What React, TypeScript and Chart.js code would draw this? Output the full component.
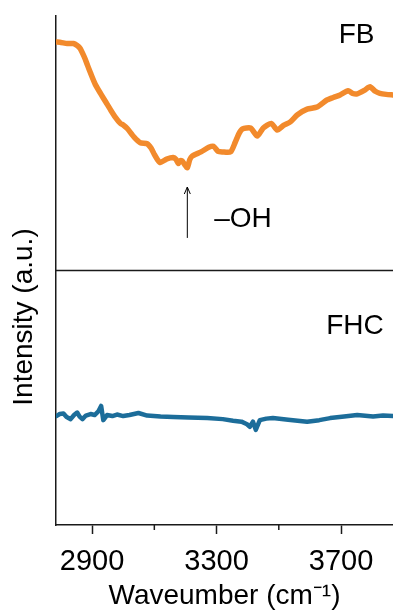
import React, { useEffect, useRef } from "react";
import { Chart, registerables } from "chart.js";

Chart.register(...registerables);

const fbWave = [2785, 2800, 2820, 2840, 2852, 2862, 2870, 2878, 2886, 2895, 2910, 2927, 2945, 2960, 2975, 2991, 3000, 3013, 3035, 3055, 3077, 3090, 3100, 3110, 3119, 3140, 3161, 3170, 3177, 3184, 3190, 3200, 3206, 3214, 3222, 3250, 3275, 3290, 3305, 3319, 3345, 3360, 3372, 3383, 3409, 3431, 3450, 3476, 3495, 3515, 3537, 3560, 3591, 3623, 3655, 3675, 3697, 3723, 3737, 3752, 3775, 3793, 3810, 3825, 3845, 3867];
const fbIntensity = [94.9, 94.8, 94.6, 94.6, 94.2, 93.6, 92.6, 91.5, 90.2, 88.8, 86.6, 84.8, 83.0, 81.5, 80.1, 78.9, 78.6, 77.9, 76.2, 75.1, 74.9, 74.0, 72.8, 71.8, 71.2, 71.9, 72.2, 71.8, 71.0, 71.6, 71.5, 70.6, 70.2, 71.8, 72.5, 73.3, 74.2, 74.4, 73.4, 73.3, 73.3, 75.2, 76.9, 77.8, 78.0, 76.4, 78.0, 78.9, 77.6, 78.5, 79.2, 80.6, 81.7, 82.1, 83.5, 84.0, 84.5, 85.3, 84.8, 84.7, 85.4, 86.1, 85.2, 84.8, 84.6, 84.5];

const fhcWave = [2785, 2796, 2808, 2818, 2831, 2842, 2852, 2860, 2869, 2880, 2895, 2908, 2920, 2929, 2936, 2948, 2965, 2980, 3000, 3020, 3049, 3077, 3120, 3161, 3210, 3270, 3320, 3353, 3380, 3398, 3407, 3417, 3426, 3439, 3460, 3481, 3530, 3591, 3630, 3665, 3710, 3752, 3803, 3835, 3867];
const fhcIntensity = [21.4, 21.8, 21.9, 21.2, 20.8, 21.6, 22.1, 21.3, 20.8, 21.5, 21.8, 21.6, 22.3, 23.4, 20.6, 21.6, 21.4, 21.7, 21.4, 21.6, 22.0, 21.5, 21.3, 21.2, 21.1, 21.0, 20.8, 20.5, 20.3, 19.8, 19.3, 20.3, 18.7, 20.6, 20.9, 21.0, 20.7, 20.3, 20.6, 21.0, 21.3, 21.6, 21.3, 21.5, 21.4];

const xTicks = [2900, 3100, 3300, 3500, 3700];
const xTickLabels = ["2900", "", "3300", "", "3700"];
const panelLabels = ["FB", "FHC"];
const peakLabel = "–OH";

const FONT = "'Liberation Sans', Arial, sans-serif";
const AXIS_COLOR = "#1a1a1a";

const overlayPlugin = {
  id: "overlay",
  afterDraw(chart: any) {
    const { ctx, chartArea, scales } = chart;
    const xs = scales.x;
    const ys = scales.y;
    ctx.save();
    const midY = ys.getPixelForValue(50);
    ctx.strokeStyle = AXIS_COLOR;
    ctx.lineWidth = 1.5;
    ctx.beginPath();
    ctx.moveTo(chartArea.left, midY);
    ctx.lineTo(chartArea.right, midY);
    ctx.stroke();
    [3100, 3500].forEach((v) => {
      const px = xs.getPixelForValue(v);
      ctx.beginPath();
      ctx.moveTo(px, chartArea.bottom);
      ctx.lineTo(px, chartArea.bottom + 5);
      ctx.stroke();
    });
    ctx.fillStyle = "#000";
    ctx.font = `28px ${FONT}`;
    ctx.textAlign = "center";
    ctx.textBaseline = "middle";
    ctx.fillText(panelLabels[0], xs.getPixelForValue(3750), ys.getPixelForValue(96.2));
    ctx.fillText(panelLabels[1], xs.getPixelForValue(3745), ys.getPixelForValue(39.1));
    ctx.fillText(peakLabel, xs.getPixelForValue(3385), ys.getPixelForValue(60));
    const ax = xs.getPixelForValue(3206);
    const yTail = ys.getPixelForValue(56.4);
    const yTip = ys.getPixelForValue(66.4);
    ctx.lineWidth = 1;
    ctx.strokeStyle = "#000";
    ctx.beginPath();
    ctx.moveTo(ax, yTail);
    ctx.lineTo(ax, yTip);
    ctx.moveTo(ax - 3, yTip + 7);
    ctx.lineTo(ax, yTip);
    ctx.lineTo(ax + 3, yTip + 7);
    ctx.stroke();
    ctx.translate(24, 317);
    ctx.rotate(-Math.PI / 2);
    ctx.font = `28px ${FONT}`;
    ctx.fillText("Intensity (a.u.)", 0, 0);
    ctx.restore();
  },
};

export default function App() {
  const ref = useRef<HTMLCanvasElement | null>(null);
  useEffect(() => {
    document.body.style.margin = "0";
    const canvas = ref.current!;
    const chart = new Chart(canvas, {
      type: "line",
      data: {
        datasets: [
          {
            label: "FB",
            data: fbWave.map((w, i) => ({ x: w, y: fbIntensity[i] })),
            borderColor: "#F28A2C",
            borderWidth: 5.5,
            pointRadius: 0,
            tension: 0.2,
            borderJoinStyle: "round",
            borderCapStyle: "round",
          },
          {
            label: "FHC",
            data: fhcWave.map((w, i) => ({ x: w, y: fhcIntensity[i] })),
            borderColor: "#1C6D9A",
            borderWidth: 4.5,
            pointRadius: 0,
            tension: 0,
            borderJoinStyle: "round",
            borderCapStyle: "round",
          },
        ],
      },
      options: {
        responsive: false,
        animation: false,
        devicePixelRatio: 1,
        layout: { padding: { top: 16, left: 0, right: 0, bottom: 0 } },
        plugins: { legend: { display: false }, tooltip: { enabled: false } },
        scales: {
          x: {
            type: "linear",
            min: 2784,
            max: 3867,
            afterBuildTicks: (scale: any) => {
              scale.ticks = xTicks.map((v) => ({ value: v }));
            },
            afterFit: (scale: any) => {
              scale.height = 90;
            },
            ticks: {
              autoSkip: false,
              maxRotation: 0,
              padding: 11,
              color: "#000",
              font: { family: FONT, size: 29 },
              callback: (v: any) => {
                const i = xTicks.indexOf(Number(v));
                return i >= 0 ? xTickLabels[i] : "";
              },
            },
            grid: {
              display: true,
              drawOnChartArea: false,
              drawTicks: true,
              tickLength: 9,
              tickWidth: 1.5,
              tickColor: (c: any) => (xTickLabels[xTicks.indexOf(c.tick?.value)] ? AXIS_COLOR : "rgba(0,0,0,0)"),
            },
            border: { display: true, color: AXIS_COLOR, width: 1.5 },
            title: {
              display: true,
              text: "Waveumber (cm⁻¹)",
              color: "#000",
              font: { family: FONT, size: 28 },
              padding: { top: 0, bottom: 2 },
            },
          },
          y: {
            type: "linear",
            min: 0,
            max: 100,
            afterFit: (scale: any) => {
              scale.width = 56;
            },
            ticks: { display: false },
            grid: { display: false },
            border: { display: true, color: AXIS_COLOR, width: 1.5 },
          },
        },
      },
      plugins: [overlayPlugin],
    } as any);
    return () => chart.destroy();
  }, []);
  return (
    <div style={{ position: "fixed", left: 0, top: 0, width: 393, height: 615, background: "#fff" }}>
      <canvas ref={ref} width={393} height={615} style={{ width: 393, height: 615 }} />
    </div>
  );
}
